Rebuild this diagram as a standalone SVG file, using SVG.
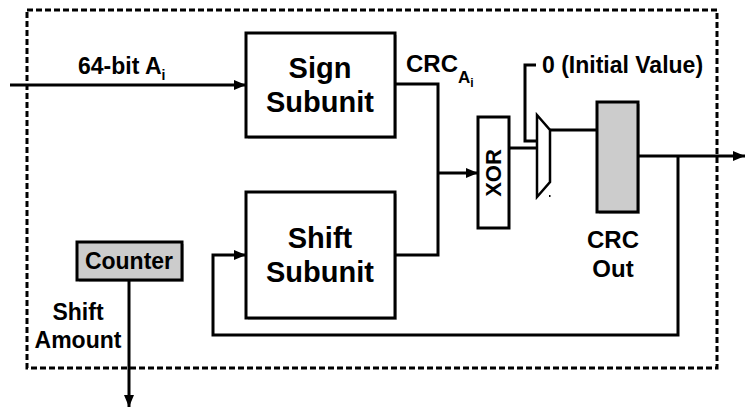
<svg xmlns="http://www.w3.org/2000/svg" width="745" height="407" viewBox="0 0 745 407">
<style>
text{font-family:"Liberation Sans",Arial,sans-serif;font-weight:bold;fill:#000}
.box{fill:#fff;stroke:#000;stroke-width:3}
.reg{fill:#cccccc;stroke:#000;stroke-width:3}
.shadow{fill:#999;opacity:0.6}
.wire{fill:none;stroke:#000;stroke-width:3}
.big{font-size:29px}
.mid{font-size:23px}
</style>
<defs>
<marker id="arr" markerUnits="userSpaceOnUse" markerWidth="14" markerHeight="12" refX="12" refY="5" orient="auto">
<path d="M0,0 L12,5 L0,10 Z" fill="#000"/>
</marker>
</defs>
<rect x="27" y="10" width="690" height="358" fill="none" stroke="#000" stroke-width="3" stroke-dasharray="6 3"/>
<g id="sign">
<rect class="shadow" x="248" y="35" width="149" height="104"/>
<rect class="box" x="246" y="33" width="149" height="104"/>
<text class="big" x="320" y="78" text-anchor="middle">Sign</text>
<text class="big" x="320" y="112" text-anchor="middle">Subunit</text>
</g>
<g id="shift">
<rect class="shadow" x="248" y="194" width="149" height="126"/>
<rect class="box" x="246" y="192" width="149" height="126"/>
<text class="big" x="320" y="248" text-anchor="middle">Shift</text>
<text class="big" x="320" y="282" text-anchor="middle">Subunit</text>
</g>
<g id="xor">
<rect class="box" x="478" y="117" width="31" height="111"/>
<text style="font-size:22px" transform="translate(501,173) rotate(-90)" text-anchor="middle">XOR</text>
</g>
<g id="mux">
<path d="M537,115 L550,130 L550,182 L537,197 Z" fill="#fff" stroke="#000" stroke-width="2.5"/>
</g>
<g id="crcout">
<rect class="shadow" x="599" y="104" width="41" height="110"/>
<rect class="reg" x="597" y="102" width="41" height="110"/>
<text style="font-size:24px" x="613" y="248" text-anchor="middle">CRC</text>
<text style="font-size:24px" x="613" y="277" text-anchor="middle">Out</text>
</g>
<g id="counter">
<rect class="shadow" x="79" y="244" width="105" height="38"/>
<rect class="reg" x="77" y="242" width="105" height="38"/>
<text class="mid" x="129" y="269" text-anchor="middle">Counter</text>
</g>
<g id="connectors">
<line class="wire" x1="10" y1="85" x2="246" y2="85" marker-end="url(#arr)"/>
<polyline class="wire" points="395,84 438,84 438,255 395,255"/>
<line class="wire" x1="438" y1="173" x2="478" y2="173" marker-end="url(#arr)"/>
<line class="wire" x1="509" y1="148" x2="537" y2="148"/>
<polyline class="wire" points="536,65 525,65 525,141 537,141"/>
<line class="wire" x1="550" y1="130" x2="597" y2="130"/>
<line class="wire" x1="638" y1="156" x2="745" y2="156" marker-end="url(#arr)"/>
<polyline class="wire" points="678,156 678,335 213,335 213,255 246,255" marker-end="url(#arr)"/>
<line class="wire" x1="129" y1="280" x2="129" y2="407" marker-end="url(#arr)"/>
<rect x="549" y="195" width="1.5" height="2" fill="#000"/>
</g>
<g id="labels">
<text class="mid" x="78" y="74">64-bit A<tspan style="font-size:14px" dy="6">i</tspan></text>
<text style="font-size:24px" x="406" y="72">CRC<tspan style="font-size:17px" dy="11">A</tspan><tspan style="font-size:12px" dy="4">i</tspan></text>
<text class="mid" x="542" y="73">0 (Initial Value)</text>
<text class="mid" x="78" y="320" text-anchor="middle">Shift</text>
<text class="mid" x="78" y="348" text-anchor="middle">Amount</text>
</g>
</svg>
